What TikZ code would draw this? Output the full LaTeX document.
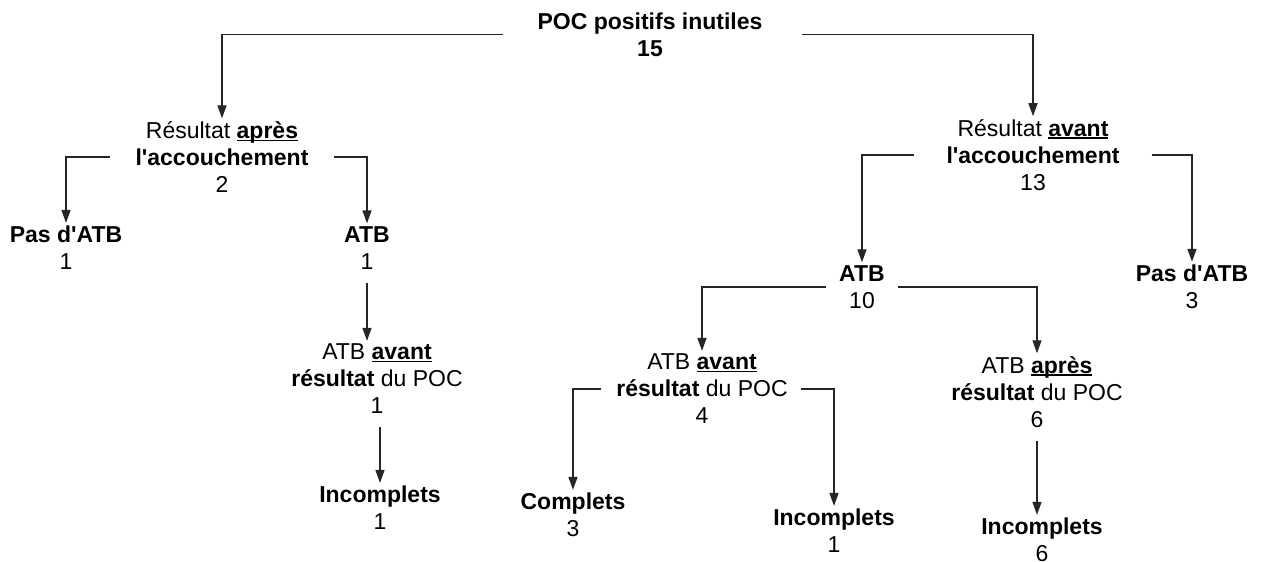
\documentclass[tikz,border=0pt]{standalone}
\usepackage{fontspec}
\setmainfont{Liberation Sans}[Ligatures=TeXOff]
\usetikzlibrary{arrows.meta}
\newcommand\ulin[1]{\leavevmode\setbox0\hbox{#1}\rlap{\rule[-2.4pt]{\wd0}{1.3pt}}\box0}
\begin{document}
\begin{tikzpicture}[x=1pt,y=-1pt,
  lbl/.style={align=center, inner xsep=0pt, inner ysep=3pt, font=\fontsize{23}{27}\selectfont, text=black},
  conn/.style={draw=black!85, line width=1.3pt, -{Triangle[length=13pt,width=9pt]}},
]
\useasboundingbox (0,0) rectangle (1267,562);
% nodes
\node[lbl] (root) at (650,34.5) {\textbf{POC positifs inutiles}\\\textbf{15}};
\node[lbl] (resA) at (222,157) {Résultat \textbf{\ulin{après}}\\\textbf{l'accouchement}\\2};
\node[lbl] (resB) at (1033,155) {Résultat \textbf{\ulin{avant}}\\\textbf{l'accouchement}\\13};
\node[lbl] (pasA) at (66,248) {\textbf{Pas d'ATB}\\1};
\node[lbl] (atbA) at (367,248) {\textbf{ATB}\\1};
\node[lbl] (avA) at (377,379) {ATB \textbf{\ulin{avant}}\\\textbf{résultat} du POC\\1};
\node[lbl] (incA) at (380,508) {\textbf{Incomplets}\\1};
\node[lbl] (atbB) at (862,287) {\textbf{ATB}\\10};
\node[lbl] (pasB) at (1192,287) {\textbf{Pas d'ATB}\\3};
\node[lbl] (avB) at (702,389) {ATB \textbf{\ulin{avant}}\\\textbf{résultat} du POC\\4};
\node[lbl] (apB) at (1037,392) {ATB \textbf{\ulin{après}}\\\textbf{résultat} du POC\\6};
\node[lbl] (compB) at (573,515) {\textbf{Complets}\\3};
\node[lbl] (incB) at (834,531) {\textbf{Incomplets}\\1};
\node[lbl] (incC) at (1042,540) {\textbf{Incomplets}\\6};
% connectors
\draw[conn] ([xshift=-34pt]root.west) -| (resA.north);
\draw[conn] ([xshift=39pt]root.east) -| (resB.north);
\draw[conn] ([xshift=-25pt]resA.west) -| (pasA.north);
\draw[conn] ([xshift=25pt]resA.east) -| (atbA.north);
\draw[conn] ([xshift=-32pt]resB.west) -| (atbB.north);
\draw[conn] ([xshift=32pt]resB.east) -| (pasB.north);
\draw[conn] ([xshift=-13pt]atbB.west) -| (avB.north);
\draw[conn] ([xshift=13pt]atbB.east) -| (apB.north);
\draw[conn] ([xshift=-15pt]avB.west) -| (compB.north);
\draw[conn] ([xshift=13pt]avB.east) -| (incB.north);
\draw[conn] ([yshift=-10pt]atbA.south) -- (atbA.south |- avA.north);
\draw[conn] ([yshift=-10pt]avA.south -| incA.north) -- (incA.north);
\draw[conn] ([yshift=-10pt]apB.south) -- (apB.south |- incC.north);
\end{tikzpicture}
\end{document}
